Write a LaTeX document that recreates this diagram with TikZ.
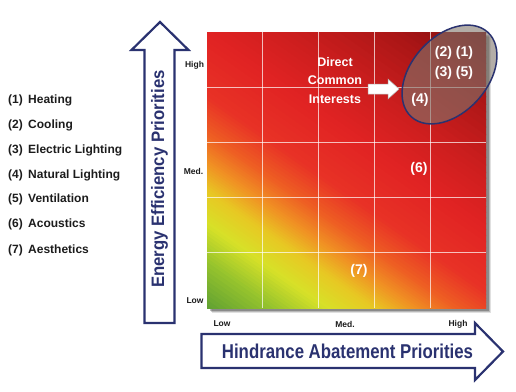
\documentclass[tikz,border=0pt]{standalone}
\usepackage{fontspec}
\setmainfont{Liberation Sans}
\usetikzlibrary{shapes.geometric}
\definecolor{navy}{RGB}{42,50,112}
\definecolor{ink}{RGB}{28,28,28}
\definecolor{grpfill}{RGB}{128,118,108}
\definecolor{h0}{RGB}{95,160,50}
\definecolor{h1}{RGB}{150,195,45}
\definecolor{h2}{RGB}{215,225,40}
\definecolor{h3}{RGB}{232,200,35}
\definecolor{h4}{RGB}{240,145,35}
\definecolor{h5}{RGB}{238,95,35}
\definecolor{h6}{RGB}{232,50,38}
\definecolor{h7}{RGB}{225,35,35}
\definecolor{h8}{RGB}{205,30,30}
\definecolor{h9}{RGB}{170,22,22}
\definecolor{h10}{RGB}{125,12,14}
\tikzset{
  listitem/.style={anchor=west, text=ink, font=\fontsize{12}{13}\selectfont\bfseries, inner sep=0pt},
  tick/.style={text=ink, font=\fontsize{8.5}{10}\selectfont\bfseries, inner sep=0pt},
  numlabel/.style={text=white, font=\fontsize{14}{16}\selectfont\bfseries, inner sep=0pt},
  blockarrow/.style={fill=white, draw=navy, line width=2.2pt, line join=miter},
  gridline/.style={white, opacity=0.7, line width=0.8pt},
}
\begin{document}
\begin{tikzpicture}[x=1pt, y=-1pt]
\useasboundingbox (0,0) rectangle (516,391);

% legend
\node[listitem] (l1) at (8,100) {(1)\ \,Heating};
\node[listitem] (l2) at (8,125) {(2)\ \,Cooling};
\node[listitem] (l3) at (8,150) {(3)\ \,Electric Lighting};
\node[listitem] (l4) at (8,175) {(4)\ \,Natural Lighting};
\node[listitem] (l5) at (8,199.5) {(5)\ \,Ventilation};
\node[listitem] (l6) at (8,224.5) {(6)\ \,Acoustics};
\node[listitem] (l7) at (8,250) {(7)\ \,Aesthetics};

% vertical block arrow
\path[blockarrow] (144.5,323) -- (144.5,50) -- (131.5,50) -- (160,22) -- (188.5,50) -- (174.5,50) -- (174.5,323) -- cycle;
\node[rotate=90, text=navy, inner sep=0pt] (ytitle) at (159.5,179)
  {\scalebox{0.93}[1]{\fontsize{18}{20}\selectfont\bfseries Energy Efficiency Priorities}};

% horizontal block arrow
\path[blockarrow] (201.5,334) -- (475,334) -- (475,323) -- (503,351.5) -- (475,380) -- (475,368) -- (201.5,368) -- cycle;
\node[text=navy, inner sep=0pt] (xtitle) at (347.5,351)
  {\scalebox{0.84}[1]{\fontsize{20}{22}\selectfont\bfseries Hindrance Abatement Priorities}};

% shadow of the square
\fill[black, opacity=0.12] (212,37) rectangle (491,313);
\fill[black, opacity=0.18] (211,36) rectangle (490,312);
\fill[black, opacity=0.25] (210,35) rectangle (489,311);

% the square with a diagonal heat gradient, drawn as thin stripes
\begin{scope}
  \clip (207,32) rectangle (486,308);
  \begin{scope}[shift={(346.5,170)}, rotate=55]
    \foreach \ta/\tb/\ca/\cb in {0/0.10/h0/h1, 0.10/0.18/h1/h2, 0.18/0.25/h2/h3,
        0.25/0.31/h3/h4, 0.31/0.37/h4/h5, 0.37/0.45/h5/h6, 0.45/0.58/h6/h7,
        0.58/0.70/h7/h8, 0.70/0.86/h8/h9, 0.86/1.0/h9/h10} {
      \foreach \j in {0,...,9} {
        \pgfmathsetmacro\p{10*\j+5}
        \pgfmathsetmacro\xa{-194+388*(\ta+(\tb-\ta)*\j/10)}
        \pgfmathsetmacro\xb{-194+388*(\ta+(\tb-\ta)*(\j+1)/10)+0.8}
        \fill[\cb!\p!\ca] (\xa,-200) rectangle (\xb,200);
      }
    }
  \end{scope}
\end{scope}
\foreach \k in {1,2,3,4} {
  \draw[gridline] ({207+55.8*\k},32) -- ({207+55.8*\k},308);
  \draw[gridline] (207,{32+55.2*\k}) -- (486,{32+55.2*\k});
}

% ticks
\node[tick] (yhigh) at (194.5,65) {High};
\node[tick] (ymed) at (193.5,171) {Med.};
\node[tick] (ylow) at (195,301) {Low};
\node[tick] (xlow) at (222,324) {Low};
\node[tick] (xmed) at (345,324) {Med.};
\node[tick] (xhigh) at (458,324) {High};

% group ellipse
\node[ellipse, draw=navy, line width=1.5pt, fill=grpfill, fill opacity=0.6,
      minimum width=114pt, minimum height=76pt, inner sep=0pt, rotate=48] (grp) at (449.5,74.5) {};

% labels
\node[text=white, align=center, font=\fontsize{12.5}{18.5}\selectfont\bfseries, inner sep=0pt] (dci) at (335,80.5)
  {Direct\\Common\\Interests};
\node[numlabel] (n21) at (454,53) {(2)\ (1)};
\node[numlabel] (n35) at (454,73) {(3)\ (5)};
\node[numlabel] (n4) at (420,100) {(4)};
\node[numlabel] (n6) at (419,169) {(6)};
\node[numlabel] (n7) at (359,271) {(7)};

% white arrow
\coordinate (wa) at (368,89);
\path[fill=white, draw=gray!60, line width=0.5pt] (wa) -- ++(0,-5) -- ++(20,0) -- ++(0,-5) -- ++(11,10) -- ++(-11,10) -- ++(0,-5) -- ++(-20,0) -- cycle;
\end{tikzpicture}
\end{document}
